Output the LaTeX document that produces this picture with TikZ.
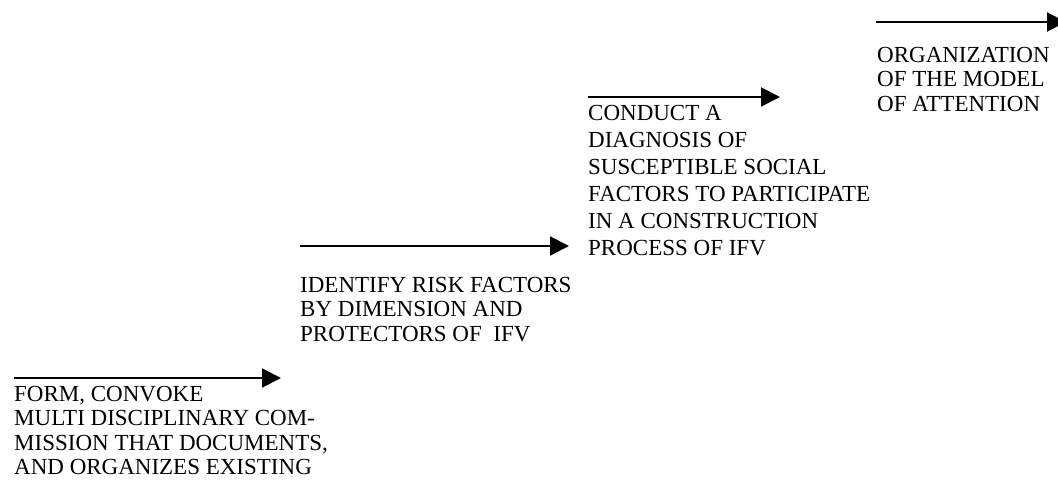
\documentclass[tikz,border=0pt]{standalone}
\usepackage{fontspec}
\setmainfont{Liberation Serif}
\usetikzlibrary{arrows.meta,positioning}

\begin{document}
\begin{tikzpicture}
%Staircase of steps
	[
	 	 %Styles
       x=1pt, y=-1pt,
       step_text/.style={inner sep=0pt, anchor=base west, align=left,
                         font=\fontsize{23}{24.4}\selectfont},
       step_text_wide/.style={step_text, font=\fontsize{23}{27}\selectfont},
       step_arrow/.style={line width=2pt, -{Triangle[length=19pt,width=19pt]}}
    ]
    \useasboundingbox (0,0) rectangle (1058,487);

    %Arrow ends
    \coordinate (arrow1_start) at (14,378);
    \coordinate (arrow1_end) at (281,378);
    \coordinate (arrow2_start) at (300,246);
    \coordinate (arrow2_end) at (569,246);
    \coordinate (arrow3_start) at (588,97);
    \coordinate (arrow3_end) at (780,97);
    \coordinate (arrow4_start) at (876,22);
    \coordinate (arrow4_end) at (1066,22);

    %Node placement (at the baseline of the last line)
    \node (step1) [step_text] at (14,474.5)
       {FORM, CONVOKE\\MULTI DISCIPLINARY COM-\\MISSION THAT DOCUMENTS,\\AND ORGANIZES EXISTING};
    \node (step2) [step_text] at (300,341.3)
       {IDENTIFY RISK FACTORS\\BY DIMENSION AND\\PROTECTORS OF~~IFV};
    \node (step3) [step_text_wide] at (588,255.5)
       {CONDUCT A\\DIAGNOSIS OF\\SUSCEPTIBLE SOCIAL\\FACTORS TO PARTICIPATE\\IN A CONSTRUCTION\\PROCESS OF IFV};
    \node (step4) [step_text] at (877,111.3)
       {ORGANIZATION\\OF THE MODEL\\OF ATTENTION};

    %Edges
    \draw [step_arrow] (arrow1_start) -- (arrow1_end);
    \draw [step_arrow] (arrow2_start) -- (arrow2_end);
    \draw [step_arrow] (arrow3_start) -- (arrow3_end);
    \draw [step_arrow] (arrow4_start) -- (arrow4_end);
\end{tikzpicture}
\end{document}
